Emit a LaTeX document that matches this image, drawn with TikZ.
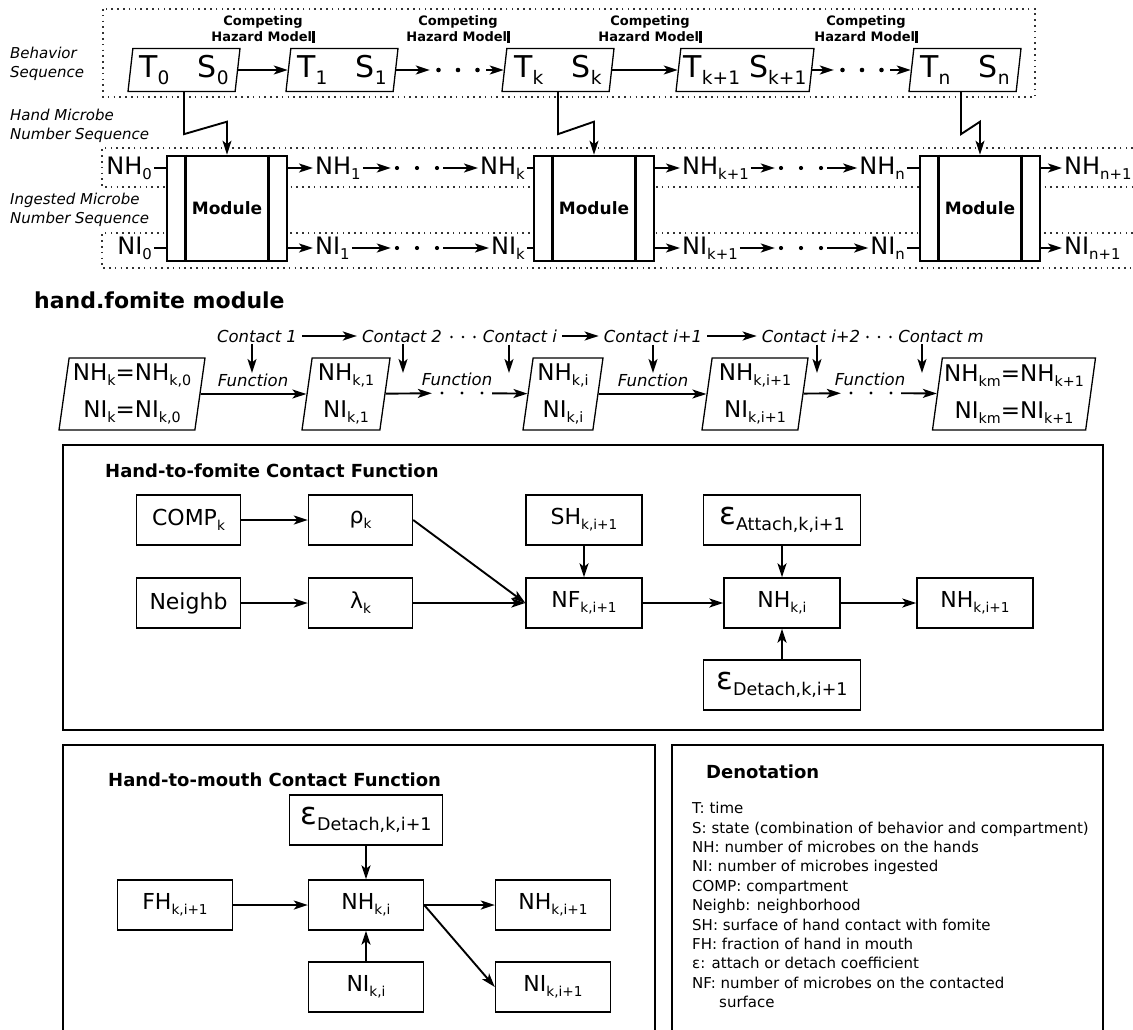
\documentclass[tikz,border=0pt]{standalone}
\usepackage{fontspec}
\setmainfont{DejaVu Sans}
\usepackage{graphicx}
\usetikzlibrary{arrows.meta,positioning,calc,shapes.geometric}

\newcommand{\subs}[1]{\raisebox{-0.22em}{\scalebox{0.62}{#1}}}
\newcommand{\epsk}[1]{{\fontsize{31}{31}\selectfont ε}\raisebox{-0.3em}{\fontsize{17.5}{17.5}\selectfont #1,k,i+1}}
\newcommand{\chmtext}{Competing\\Hazard Model\rule[-1.5pt]{2.5pt}{11.5pt}}

\tikzset{
  dotbox/.style={line width=1.5pt,dash pattern=on 1.6pt off 4.2pt,draw=black!80},
  seqlbl/.style={anchor=west,align=left,inner sep=0pt,font=\itshape\fontsize{15}{19}\selectfont},
  chm/.style={align=center,inner sep=0pt,font=\bfseries\fontsize{13}{16}\selectfont},
  tbox/.style={draw,trapezium,trapezium left angle=80.5,trapezium right angle=99.5,trapezium stretches body,minimum height=43pt,line width=1.3pt,inner sep=0pt,font=\fontsize{30}{32}\selectfont},
  pbox/.style={draw,trapezium,trapezium left angle=80.5,trapezium right angle=99.5,trapezium stretches body,minimum height=72pt,line width=1.3pt,inner sep=0pt,align=center,font=\fontsize{23}{37}\selectfont},
  module/.style={draw,fill=white,line width=2.6pt,minimum width=120pt,minimum height=105pt,font=\bfseries\fontsize{17}{19}\selectfont},
  var/.style={inner sep=2pt,font=\fontsize{24}{26}\selectfont},
  gap/.style={minimum width=#1,minimum height=8pt,inner sep=0pt},
  contact/.style={inner xsep=5pt,inner ysep=2pt,font=\itshape\fontsize{16.5}{18}\selectfont},
  fn/.style={inner sep=1pt,font=\itshape\fontsize{16.5}{18}\selectfont},
  fbox/.style={draw,line width=1.4pt,minimum height=50pt,inner sep=2pt,font=\fontsize{22}{24}\selectfont},
  sect/.style={draw,line width=2.4pt},
  ttl/.style={anchor=west,inner sep=0pt,font=\bfseries\fontsize{18}{20}\selectfont},
  arr/.style={-{Stealth[length=14pt,width=9pt,inset=3.5pt]},line width=1.9pt},
  ln/.style={line width=1.9pt},
}

\begin{document}
\begin{tikzpicture}[x=1pt,y=-1pt]
  \useasboundingbox (0,0) rectangle (1133,1030);

  % sequence frames
  \draw[dotbox] (103,9) rectangle (1035,97);
  \draw[dotbox] (1133,148) -- (102,148) -- (102,187) -- (1133,187);
  \draw[dotbox] (1133,233) -- (102,233) -- (102,268) -- (1133,268);
  \node[seqlbl] (lbeh) at (10,64) {Behavior\\Sequence};
  \node[seqlbl] (lhmn) at (10,126) {Hand Microbe\\Number Sequence};
  \node[seqlbl] (limn) at (10,210) {Ingested Microbe\\Number Sequence};

  % behavior sequence
  \foreach \x [count=\i] in {263,458,650,866}
    \node[chm] (chm\i) at (\x,29) {\chmtext};
  \node[tbox,minimum width=112pt] (t0) at (184,70) {T\subs{0}\hspace{0.95em}S\subs{0}};
  \node[tbox,minimum width=112pt] (t1) at (342,70) {T\subs{1}\hspace{0.95em}S\subs{1}};
  \node[gap=56pt] (dt1) at (458,70) {};
  \node[tbox,minimum width=112pt] (tk) at (558,70) {T\subs{k}\hspace{0.95em}S\subs{k}};
  \node[tbox,minimum width=138pt] (tk1) at (745,70) {T\subs{k+1}\hspace{0.3em}S\subs{k+1}};
  \node[gap=56pt] (dt2) at (862,70) {};
  \node[tbox,minimum width=112pt] (tn) at (965,70) {T\subs{n}\hspace{0.95em}S\subs{n}};
  \draw[arr] (t0) -- (t1);
  \draw[arr] (t1) -- (dt1);
  \draw[arr] (dt1) -- (tk);
  \draw[arr] (tk) -- (tk1);
  \draw[arr] (tk1) -- (dt2);
  \draw[arr] (dt2) -- (tn);

  % modules
  \node[module] (m1) at (227,208.5) {Module};
  \node[module] (mk) at (594,208.5) {Module};
  \node[module] (mn) at (980,208.5) {Module};
  \foreach \m in {m1,mk,mn} {
    \draw[line width=2.6pt] ([xshift=20pt]\m.north west) -- ([xshift=20pt]\m.south west);
    \draw[line width=2.6pt] ([xshift=-20pt]\m.north east) -- ([xshift=-20pt]\m.south east);
  }
  \draw[arr] (t0.south) -- ++(0,42) -- ($(m1.north)+(0,-33)$) -- (m1.north);
  \draw[arr] (tk.south) -- ++(0,42) -- ($(mk.north)+(0,-33)$) -- (mk.north);
  \draw[arr] ([xshift=-4pt]tn.south) -- ++(0,42) -- ($(mn.north)+(0,-33)$) -- (mn.north);

  % hand microbe numbers
  \node[var,anchor=east] (nh0) at (154,168) {NH\subs{0}};
  \node[var,anchor=west] (nh1) at (313,168) {NH\subs{1}};
  \node[gap=52pt] (dh1) at (417,168) {};
  \node[var,anchor=east] (nhk) at (527,168) {NH\subs{k}};
  \node[var,anchor=west] (nhk1) at (680,168) {NH\subs{k+1}};
  \node[gap=52pt] (dh2) at (801,168) {};
  \node[var,anchor=east] (nhn) at (907,168) {NH\subs{n}};
  \node[var,anchor=west] (nhn1) at (1062,168) {NH\subs{n+1}};
  \draw[ln] (nh0) -- (nh0 -| m1.west);
  \draw[arr] (m1.east |- nh1) -- (nh1);
  \draw[arr] (nh1) -- (dh1);
  \draw[arr] (dh1) -- (nhk);
  \draw[ln] (nhk) -- (nhk -| mk.west);
  \draw[arr] (mk.east |- nhk1) -- (nhk1);
  \draw[arr] (nhk1) -- (dh2);
  \draw[arr] (dh2) -- (nhn);
  \draw[ln] (nhn) -- (nhn -| mn.west);
  \draw[arr] (mn.east |- nhn1) -- (nhn1);

  % ingested microbe numbers
  \node[var,anchor=east] (ni0) at (154,248) {NI\subs{0}};
  \node[var,anchor=west] (ni1) at (313,248) {NI\subs{1}};
  \node[gap=52pt] (di1) at (417,248) {};
  \node[var,anchor=east] (nik) at (527,248) {NI\subs{k}};
  \node[var,anchor=west] (nik1) at (680,248) {NI\subs{k+1}};
  \node[gap=52pt] (di2) at (801,248) {};
  \node[var,anchor=east] (nin) at (907,248) {NI\subs{n}};
  \node[var,anchor=west] (nin1) at (1062,248) {NI\subs{n+1}};
  \draw[ln] (ni0) -- (ni0 -| m1.west);
  \draw[arr] (m1.east |- ni1) -- (ni1);
  \draw[arr] (ni1) -- (di1);
  \draw[arr] (di1) -- (nik);
  \draw[ln] (nik) -- (nik -| mk.west);
  \draw[arr] (mk.east |- nik1) -- (nik1);
  \draw[arr] (nik1) -- (di2);
  \draw[arr] (di2) -- (nin);
  \draw[ln] (nin) -- (nin -| mn.west);
  \draw[arr] (mn.east |- nin1) -- (nin1);

  % hand.fomite module
  \node[ttl,font=\bfseries\fontsize{22}{24}\selectfont] (hfm) at (34,300) {hand.fomite module};
  \node[contact] (c1) at (257,336) {Contact 1};
  \node[contact] (c2) at (402,336) {Contact 2};
  \node[gap=30pt] (dc1) at (463,337) {};
  \node[contact] (ci) at (520,336) {Contact i};
  \node[contact] (ci1) at (653,336) {Contact i+1};
  \node[contact] (ci2) at (811,336) {Contact i+2};
  \node[gap=30pt] (dc2) at (879,337) {};
  \node[contact] (cm) at (941,336) {Contact m};
  \draw[arr] (c1) -- (c2);
  \draw[arr] (ci) -- (ci1);
  \draw[arr] (ci1) -- (ci2);
  \coordinate (cfoot) at (0,373);
  \foreach \c/\d in {c1/-5,c2/1,ci/-11,ci1/0,ci2/6,cm/-19} {
    \path ([xshift=\d pt]\c.south) coordinate (a\c);
    \draw[arr] (a\c) -- (a\c |- cfoot);
  }

  \node[pbox,minimum width=146pt] (p0) at (132,394) {NH\subs{k}=NH\subs{k,0}\\NI\subs{k}=NI\subs{k,0}};
  \node[pbox,minimum width=88pt] (p1) at (346,394) {NH\subs{k,1}\\NI\subs{k,1}};
  \node[gap=60pt] (dp1) at (462,393) {};
  \node[pbox,minimum width=80pt] (pi) at (563,394) {NH\subs{k,i}\\NI\subs{k,i}};
  \node[pbox,minimum width=106pt] (pi1) at (755,394) {NH\subs{k,i+1}\\NI\subs{k,i+1}};
  \node[gap=60pt] (dp2) at (871,393) {};
  \node[pbox,minimum width=163pt] (pm) at (1014,394) {NH\subs{km}=NH\subs{k+1}\\NI\subs{km}=NI\subs{k+1}};
  \node[fn] (f1) at (253,380) {Function};
  \node[fn] (f2) at (457,379) {Function};
  \node[fn] (f3) at (653,380) {Function};
  \node[fn] (f4) at (870,379) {Function};
  \draw[arr] (p0) -- (p1);
  \draw[arr] (p1) -- (dp1);
  \draw[arr] (dp1) -- (pi);
  \draw[arr] (pi) -- (pi1);
  \draw[arr] (pi1) -- (dp2);
  \draw[arr] (dp2) -- (pm);

  % the dots of the sequences
  \foreach \d/\s/\r in {dt1/19.5/2.3,dt2/19.5/2.3,dh1/20/2.1,dh2/20/2.1,di1/20/2.1,di2/20/2.1,dp1/20/1.7,dp2/20/1.7,dc1/11.5/1.4,dc2/11.5/1.4}
    \foreach \k in {-1,0,1}
      \fill ($(\d)+(\k*\s,0)$) circle (\r pt);

  % hand-to-fomite contact function
  \draw[sect] (63,445) rectangle (1103,730);
  \node[ttl] (tfom) at (105,471) {Hand-to-fomite Contact Function};
  \node[fbox,minimum width=104pt] (comp) at (188.5,520) {COMP\subs{k}};
  \node[fbox,minimum width=104pt] (rho) at (360.5,520) {ρ\subs{k}};
  \node[fbox,minimum width=116pt] (sh) at (584,520) {SH\subs{k,i+1}};
  \node[fbox,minimum width=157pt] (epsa) at (782,520) {\epsk{Attach}};
  \node[fbox,minimum width=104pt] (neigh) at (188.5,603) {Neighb};
  \node[fbox,minimum width=104pt] (lam) at (360.5,603) {λ\subs{k}};
  \node[fbox,minimum width=116pt] (nf) at (584,603) {NF\subs{k,i+1}};
  \node[fbox,minimum width=116pt] (nhf) at (782,603) {NH\subs{k,i}};
  \node[fbox,minimum width=116pt] (nhf1) at (975,603) {NH\subs{k,i+1}};
  \node[fbox,minimum width=157pt] (epsd) at (782,685) {\epsk{Detach}};
  \draw[arr] (comp) -- (rho);
  \draw[arr] (neigh) -- (lam);
  \draw[arr] (rho.east) -- (nf.west);
  \draw[arr] (lam) -- (nf);
  \draw[arr] (sh) -- (nf);
  \draw[arr] (nf) -- (nhf);
  \draw[arr] (epsa) -- (nhf);
  \draw[arr] (epsd) -- (nhf);
  \draw[arr] (nhf) -- (nhf1);

  % hand-to-mouth contact function
  \draw[sect] (63,1032) -- (63,745) -- (655,745) -- (655,1032);
  \node[ttl] (tmou) at (108,780) {Hand-to-mouth Contact Function};
  \node[fbox,minimum width=153pt] (epsm) at (366,820) {\epsk{Detach}};
  \node[fbox,minimum width=115pt] (fh) at (175,905) {FH\subs{k,i+1}};
  \node[fbox,minimum width=115pt] (nhm) at (366,905) {NH\subs{k,i}};
  \node[fbox,minimum width=115pt] (nhm1) at (553,905) {NH\subs{k,i+1}};
  \node[fbox,minimum width=115pt] (nim) at (366,987) {NI\subs{k,i}};
  \node[fbox,minimum width=115pt] (nim1) at (553,987) {NI\subs{k,i+1}};
  \draw[arr] (fh) -- (nhm);
  \draw[arr] (epsm) -- (nhm);
  \draw[arr] (nim) -- (nhm);
  \draw[arr] (nhm) -- (nhm1);
  \draw[arr] (nhm.east) -- (nim1.west);

  % denotation
  \draw[sect] (672,1032) -- (672,745) -- (1103,745) -- (1103,1032);
  \node[ttl] (tden) at (706,772) {Denotation};
  \node[anchor=north west,align=left,inner sep=0pt,font=\fontsize{15}{19.4}\selectfont] (dlist) at (692,802)
    {T: time\\S: state (combination of behavior and compartment)\\NH: number of microbes on the hands\\NI: number of microbes ingested\\COMP: compartment\\Neighb: neighborhood\\SH: surface of hand contact with fomite\\FH: fraction of hand in mouth\\ε: attach or detach coefficient\\NF: number of microbes on the contacted\\\hspace*{27pt}surface};
\end{tikzpicture}
\end{document}
